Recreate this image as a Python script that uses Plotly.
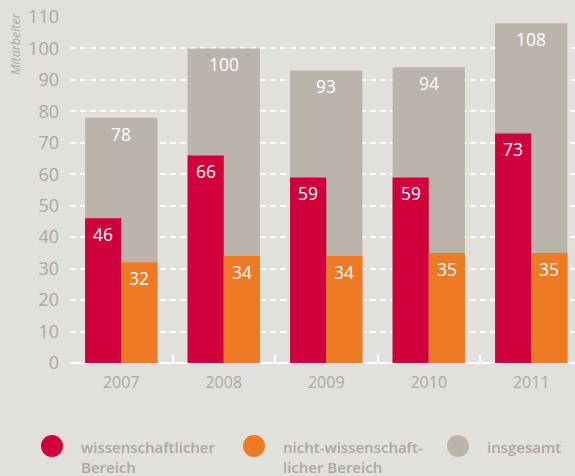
import plotly.graph_objects as go

years = ["2007", "2008", "2009", "2010", "2011"]
wiss = [46, 66, 59, 59, 73]
nicht = [32, 34, 34, 35, 35]
total = [78, 100, 93, 94, 108]
y_ticks = [0, 10, 20, 30, 40, 50, 60, 70, 80, 90, 100, 110]
legend_labels = ["wissenschaftlicher<br>Bereich", "nicht-wissenschaft-<br>licher Bereich", "insgesamt"]

RED = "#d0003c"
ORANGE = "#ee7b24"
GREY = "#bbb4ab"
BG = "#e1e0dc"
TXT = "#aea79e"
FONT = "Open Sans"

W, H = 575, 476
ML, MR, MT, MB = 70, 0, 17, 113
PW = W - ML - MR
PH = H - MT - MB

fig = go.Figure()
fig.add_trace(go.Bar(x=years, y=total, width=0.706, offset=-0.353, marker=dict(color=GREY, line_width=0),
                     showlegend=False, hoverinfo="skip"))
fig.add_trace(go.Bar(x=years, y=wiss, width=0.353, offset=-0.353, marker=dict(color=RED, line_width=0),
                     showlegend=False, hoverinfo="skip"))
fig.add_trace(go.Bar(x=years, y=nicht, width=0.353, offset=0.0, marker=dict(color=ORANGE, line_width=0),
                     showlegend=False, hoverinfo="skip"))

annotations = []
lab_font = dict(family=FONT, size=17.5, color="white")
for i, yr in enumerate(years):
    for val, dx in ((total[i], 0), (wiss[i], -18), (nicht[i], 18)):
        annotations.append(dict(x=i, y=val, xref="x", yref="y", text=str(val), showarrow=False,
                                xshift=dx, yshift=-16, xanchor="center", yanchor="middle", font=lab_font))

# y-axis title
annotations.append(dict(x=(15 - ML) / PW, y=(363 - 44) / PH, xref="paper", yref="paper", text="<i>Mitarbeiter</i>",
                        textangle=-90, showarrow=False, font=dict(family=FONT, size=12.5, color=TXT),
                        xanchor="center", yanchor="middle"))

# manual legend with round markers
legend_colors = [RED, ORANGE, GREY]
circle_cx = [52, 254, 458]
legend_cy = 446
r = 11
shapes = []
for lab, col, cx in zip(legend_labels, legend_colors, circle_cx):
    shapes.append(dict(type="circle", xref="paper", yref="paper",
                       x0=(cx - r - ML) / PW, x1=(cx + r - ML) / PW,
                       y0=(363 - (legend_cy + r)) / PH, y1=(363 - (legend_cy - r)) / PH,
                       fillcolor=col, line_width=0))
    annotations.append(dict(x=(cx + 27 - ML) / PW, y=(363 - (legend_cy - 11)) / PH, xref="paper", yref="paper",
                            text=lab, showarrow=False, xanchor="left", yanchor="top", align="left",
                            font=dict(family=FONT, size=15, color=TXT, weight=600)))

fig.update_layout(
    width=W, height=H,
    margin=dict(l=ML, r=MR, t=MT, b=MB),
    paper_bgcolor=BG, plot_bgcolor=BG,
    barmode="overlay",
    annotations=annotations, shapes=shapes,
    xaxis=dict(type="category", range=[-0.5, -0.5 + PW / 102.5], showgrid=False,
               tickson="boundaries", ticks="inside", ticklen=8, tickwidth=2, tickcolor="white",
               showline=False, tickfont=dict(family=FONT, size=16, color=TXT), ticklabelstandoff=8),
    yaxis=dict(range=[0, 110], tickvals=y_ticks, showgrid=True, gridcolor="white", gridwidth=1.5,
               griddash="6px,4px", zeroline=True, zerolinecolor="white", zerolinewidth=2,
               ticks="", tickfont=dict(family=FONT, size=18, color=TXT), ticklabelstandoff=10),
)

fig.write_html("out.html", config={"displayModeBar": False})
with open("out.html", "r", encoding="utf-8") as f:
    html = f.read()
html = html.replace("<body>", '<body style="margin:0;padding:0;overflow:hidden;">', 1)
with open("out.html", "w", encoding="utf-8") as f:
    f.write(html)
